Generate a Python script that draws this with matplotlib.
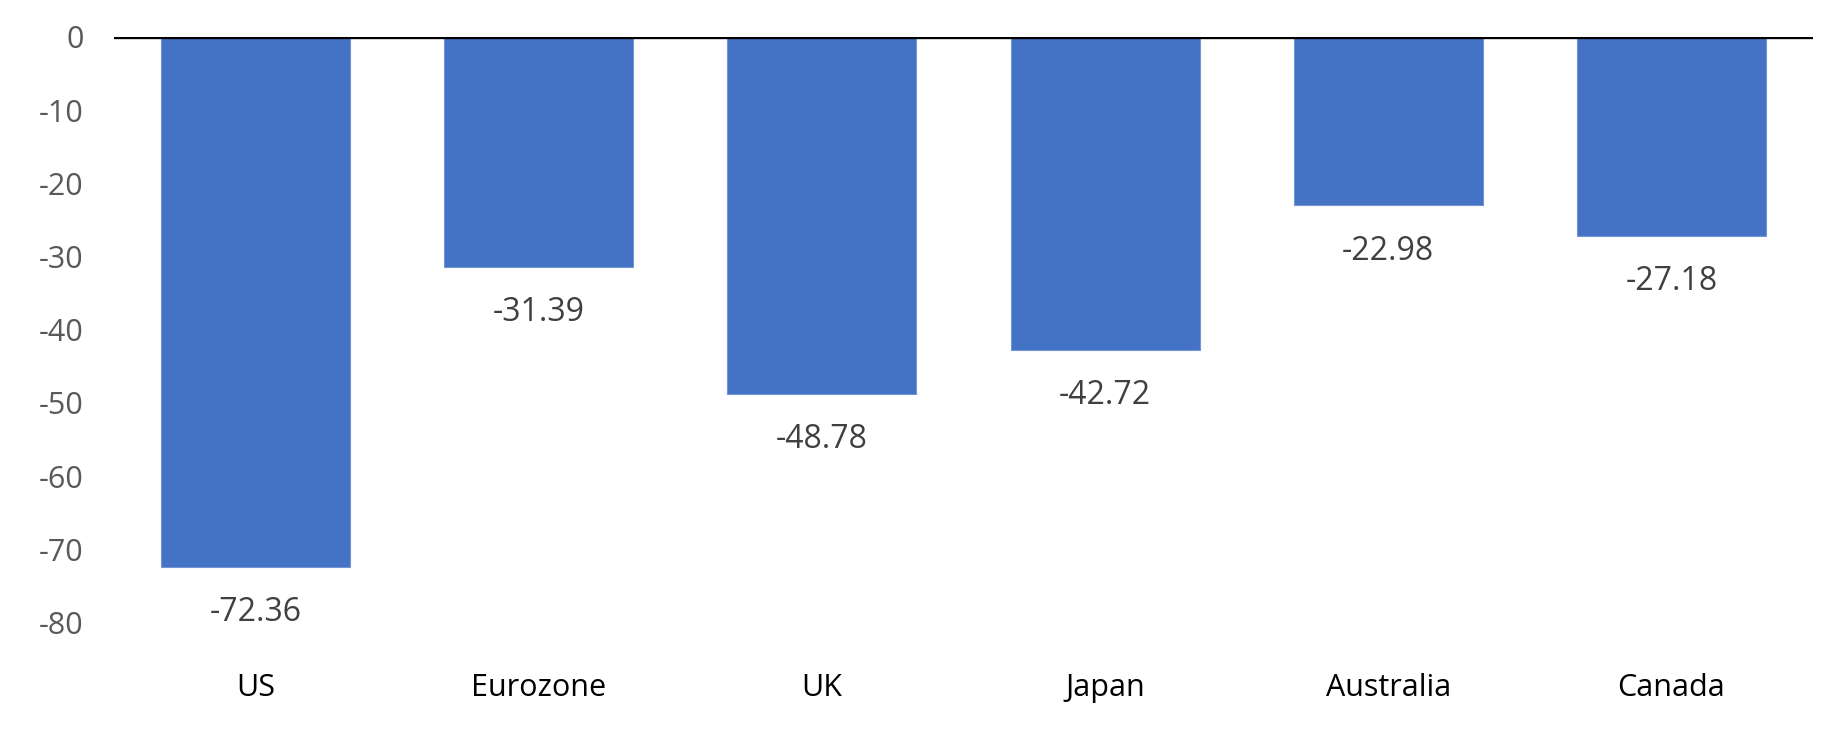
import matplotlib
matplotlib.use("Agg")
from matplotlib import pyplot as plt

countries = ["US", "Eurozone", "UK", "Japan", "Australia", "Canada"]
values = [-72.36, -31.39, -48.78, -42.72, -22.98, -27.18]
yticks = [0, -10, -20, -30, -40, -50, -60, -70, -80]

plt.rcParams['font.family'] = ['Open Sans', 'DejaVu Sans']

fig = plt.figure(figsize=(18.4, 7.36), dpi=100)
ax = fig.add_axes([114/1840, 1 - 622.6/736, (1813 - 114)/1840, (622.6 - 37)/736])

x = range(len(countries))
bars = ax.bar(x, values, width=0.668, color="#4472C4", edgecolor="#7295d8", linewidth=0.8, zorder=2)

# data labels under each bar
for xi, v in zip(x, values):
    ax.annotate("%.2f" % v, (xi, v), xytext=(0, -33), textcoords="offset points",
                ha="center", va="center", fontsize=23, color="#404040")

ax.axhline(0, color="black", linewidth=2.4, zorder=3)

ax.set_xlim(-0.5, len(countries) - 0.5)
ax.set_ylim(-80, 0)
ax.set_yticks(yticks)
ax.set_yticklabels([str(t) for t in yticks], fontsize=22, color="#595959")
ax.set_xticks(list(x))
ax.set_xticklabels(countries, fontsize=22, color="black")
ax.tick_params(axis="y", length=0, pad=22)
ax.tick_params(axis="x", length=0, pad=36)
for s in ax.spines.values():
    s.set_visible(False)

fig.savefig("out.png", dpi=100, facecolor="white")
